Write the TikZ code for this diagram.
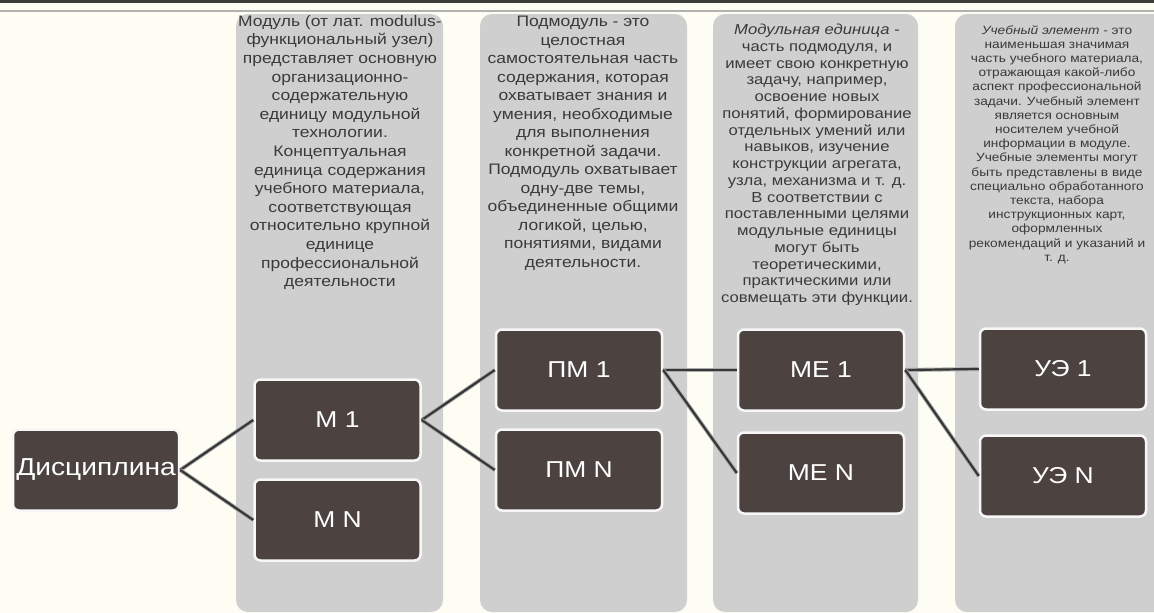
\documentclass[tikz,border=0pt]{standalone}
\usepackage{fontspec}
\setmainfont{Liberation Sans}
\newfontfamily\wide[FakeStretch=1.15]{Liberation Sans}
\definecolor{bg}{RGB}{253,253,244}
\definecolor{colgray}{RGB}{207,207,207}
\definecolor{boxfill}{RGB}{76,67,64}
\definecolor{txt}{RGB}{58,58,58}
\definecolor{linkcol}{RGB}{55,55,55}
\definecolor{topbar}{RGB}{60,60,54}
\tikzset{
  colbox/.style={fill=colgray, rounded corners=12pt},
  item/.style={draw=white!94!gray, line width=2.5pt, fill=boxfill, rounded corners=6pt,
    minimum width=166pt, minimum height=81pt, text=white, inner sep=0pt,
    font=\wide\fontsize{23}{26}\selectfont},
  desc/.style={anchor=north, align=center, text=txt, inner sep=0pt},
  link/.style={line width=2.2pt, draw=linkcol, preaction={draw=gray!65, line width=4pt}}
}
\begin{document}
\begin{tikzpicture}[x=1pt,y=-1pt]
\useasboundingbox (0,0) rectangle (1154,613);
\fill[bg] (0,0) rectangle (1154,613);
\fill[topbar] (0,0) rectangle (1154,3);
\draw[gray!60, line width=2pt] (0,11) -- (1154,11);
% columns
\fill[colbox] (236,14) rectangle (443,612);
\fill[colbox] (480,14) rectangle (687,612);
\fill[colbox] (713,14) rectangle (918,612);
\fill[colbox] (955,14) rectangle (1180,612);
% descriptions
\node[desc, font=\wide\fontsize{15.2}{18.6}\selectfont] (d1) at (340,15) {Модуль (от лат. modulus-\\функциональный узел)\\представляет основную\\организационно-\\содержательную\\единицу модульной\\технологии.\\Концептуальная\\единица содержания\\учебного материала,\\соответствующая\\относительно крупной\\единице\\профессиональной\\деятельности};
\node[desc, font=\wide\fontsize{15.2}{18.5}\selectfont] (d2) at (583,16) {Подмодуль - это\\целостная\\самостоятельная часть\\содержания, которая\\охватывает знания и\\умения, необходимые\\для выполнения\\конкретной задачи.\\Подмодуль охватывает\\одну-две темы,\\объединенные общими\\логикой, целью,\\понятиями, видами\\деятельности.};
\node[desc, font=\wide\fontsize{14.5}{16.75}\selectfont] (d3) at (817,24) {\textit{Модульная единица} -\\часть подмодуля, и\\имеет свою конкретную\\задачу, например,\\освоение новых\\понятий, формирование\\отдельных умений или\\навыков, изучение\\конструкции агрегата,\\узла, механизма и т. д.\\В соответствии с\\поставленными целями\\модульные единицы\\могут быть\\теоретическими,\\практическими или\\совмещать эти функции.};
\node[desc, font=\wide\fontsize{11.9}{14.2}\selectfont] (d4) at (1057,25) {\textit{Учебный элемент} - это\\наименьшая значимая\\часть учебного материала,\\отражающая какой-либо\\аспект профессиональной\\задачи. Учебный элемент\\является основным\\носителем учебной\\информации в модуле.\\Учебные элементы могут\\быть представлены в виде\\специально обработанного\\текста, набора\\инструкционных карт,\\оформленных\\рекомендаций и указаний и\\т. д.};
% items
\node[item, font=\wide\fontsize{24.5}{28}\selectfont] (disc) at (96,470) {Дисциплина};
\node[item] (m1) at (337.5,420) {М 1};
\node[item] (mn) at (337.5,520) {М N};
\node[item] (pm1) at (579,370) {ПМ 1};
\node[item] (pmn) at (579,470) {ПМ N};
\node[item] (me1) at (821,370) {МЕ 1};
\node[item] (men) at (821,473) {МЕ N};
\node[item] (ue1) at (1063,369) {УЭ 1};
\node[item] (uen) at (1063,476) {УЭ N};
% links
\draw[link] (disc.east) -- (m1.west);
\draw[link] (disc.east) -- (mn.west);
\draw[link] (m1.east) -- (pm1.west);
\draw[link] (m1.east) -- (pmn.west);
\draw[link] (pm1.east) -- (me1.west);
\draw[link] (pm1.east) -- (men.west);
\draw[link] (me1.east) -- (ue1.west);
\draw[link] (me1.east) -- (uen.west);
\end{tikzpicture}
\end{document}
